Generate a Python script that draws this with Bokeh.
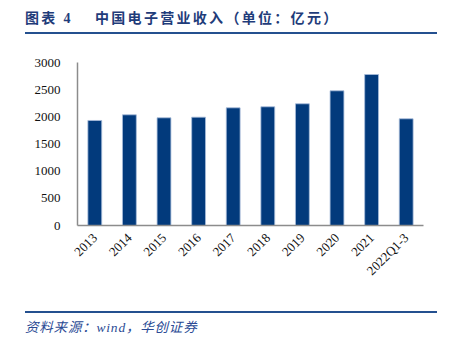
import math
from bokeh.plotting import figure
from bokeh.models import Range1d, FactorRange, Div, ColumnDataSource
from bokeh.layouts import column
from bokeh.embed import file_html
from bokeh.resources import INLINE

years = ["2013", "2014", "2015", "2016", "2017", "2018", "2019", "2020", "2021", "2022Q1-3"]
revenue = [1933, 2037, 1982, 1994, 2166, 2185, 2240, 2479, 2779, 1964]
y_ticks = [0, 500, 1000, 1500, 2000, 2500, 3000]

title_main = "图表 4"
title_sub = "中国电子营业收入（单位：亿元）"
source_text = "资料来源：wind，华创证券"

src = ColumnDataSource(dict(x=years, top=revenue))

p = figure(width=457, height=260, x_range=FactorRange(*years, range_padding=0),
           y_range=Range1d(0, 3000), output_backend="svg", toolbar_location=None,
           min_border_left=77, min_border_right=34, min_border_top=22, min_border_bottom=75)
p.vbar(x="x", top="top", width=0.4, source=src, fill_color="#023A7C",
       line_color="#A8BDDB", line_width=0.8)

p.outline_line_color = None
p.xgrid.grid_line_color = None
p.ygrid.grid_line_color = None
p.background_fill_color = "white"
p.border_fill_color = "white"

p.yaxis.ticker = y_ticks
for ax in (p.xaxis, p.yaxis):
    ax.axis_line_color = "#8C8C8C"
    ax.axis_line_width = 1.5
    ax.major_tick_line_color = None
    ax.minor_tick_line_color = None
    ax.major_label_text_font = "Liberation Serif"
    ax.major_label_text_font_size = "13px"
    ax.major_label_text_color = "#111111"
p.yaxis.major_label_standoff = 11
p.xaxis.major_label_orientation = math.pi / 4
p.xaxis.major_label_standoff = 4

fonts = "'Liberation Serif', 'Noto Sans CJK SC'"
title_html = (
    '<div style="position:relative;width:457px;height:40px;background:white;">'
    '<div style="position:absolute;left:25px;top:11px;font-family:' + fonts + ';'
    'font-weight:bold;font-size:14px;line-height:16px;letter-spacing:2.3px;color:#1F3C7A;white-space:pre;">'
    + title_main + '</div>'
    '<div style="position:absolute;left:95px;top:11px;font-family:' + fonts + ';'
    'font-weight:bold;font-size:14px;line-height:16px;letter-spacing:2.3px;color:#1F3C7A;white-space:pre;">'
    + title_sub + '</div>'
    '<div style="position:absolute;left:25px;top:32px;width:412px;height:2px;background:#24508F;"></div>'
    '</div>'
)
footer_html = (
    '<div style="position:relative;width:457px;height:40px;background:white;">'
    '<div style="position:absolute;left:25px;top:11px;width:412px;height:2px;background:#24508F;"></div>'
    '<div style="position:absolute;left:25px;top:20px;font-family:' + fonts + ';'
    'font-style:italic;font-size:13.5px;line-height:15px;letter-spacing:0.8px;color:#2A4A94;white-space:pre;">'
    + source_text + '</div>'
    '</div>'
)

head = Div(text=title_html, width=457, height=40, margin=(0, 0, 0, 0))
foot = Div(text=footer_html, width=457, height=40, margin=(0, 0, 0, 0))
layout = column(head, p, foot, spacing=0, margin=(0, 0, 0, 0))

open("out.html", "w").write(file_html(layout, INLINE))
